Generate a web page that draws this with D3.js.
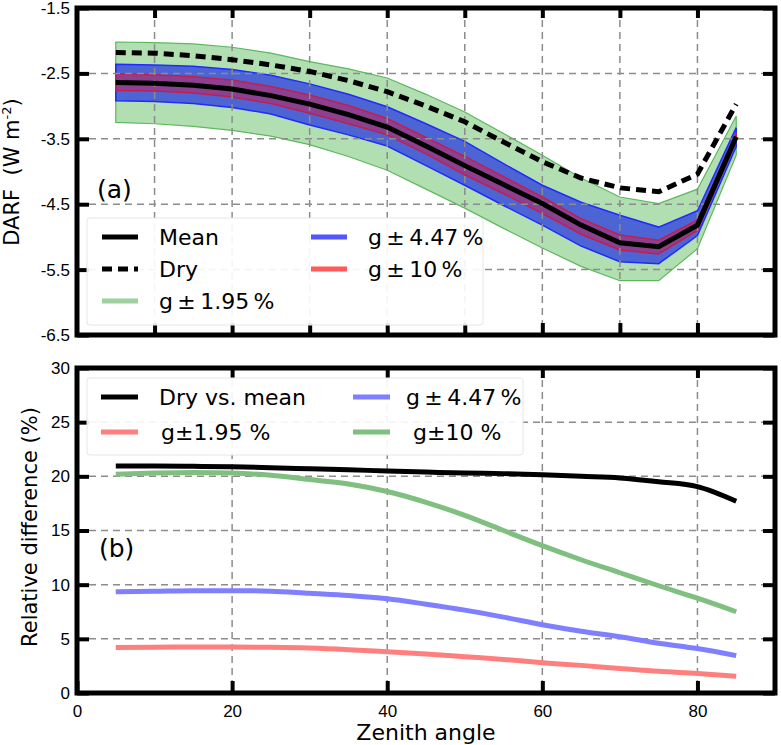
<!DOCTYPE html>
<html>
<head>
<meta charset="utf-8">
<script src="https://cdn.jsdelivr.net/npm/d3@7"></script>
<style>
  body { margin: 0; background: #fff; }
  svg { font-family: "DejaVu Sans", sans-serif; }
</style>
</head>
<body>
<svg id="chart" width="781" height="745"></svg>
<script>
// zenith angles
let angles = [5, 10, 15, 20, 25, 30, 35, 40, 45, 50, 55, 60, 65, 70, 75, 80, 85]

// panel (a): DARF (W m-2)
let meanDarf = [-2.64, -2.65, -2.68, -2.74, -2.84, -2.97, -3.13, -3.32, -3.61, -3.91, -4.20, -4.49, -4.82, -5.09, -5.15, -4.82, -3.47]
let dryDarf = [-2.18, -2.19, -2.23, -2.29, -2.37, -2.47, -2.61, -2.78, -3.00, -3.24, -3.55, -3.85, -4.10, -4.25, -4.31, -4.04, -2.97]
let greenUpper = [-2.02, -2.03, -2.05, -2.10, -2.19, -2.32, -2.43, -2.57, -2.82, -3.09, -3.42, -3.75, -4.10, -4.39, -4.49, -4.27, -3.15]
let greenLower = [-3.25, -3.27, -3.31, -3.37, -3.46, -3.59, -3.77, -3.98, -4.27, -4.56, -4.87, -5.17, -5.45, -5.67, -5.67, -5.18, -3.75]
let blueUpper = [-2.36, -2.37, -2.39, -2.44, -2.53, -2.66, -2.82, -3.01, -3.27, -3.54, -3.88, -4.21, -4.47, -4.67, -4.85, -4.60, -3.33]
let blueLower = [-2.92, -2.93, -2.96, -3.02, -3.12, -3.29, -3.44, -3.61, -3.91, -4.21, -4.52, -4.82, -5.14, -5.38, -5.41, -4.98, -3.62]
let redUpper = [-2.51, -2.52, -2.55, -2.60, -2.70, -2.83, -2.99, -3.19, -3.48, -3.77, -4.08, -4.39, -4.72, -4.97, -5.05, -4.74, -3.41]
let redLower = [-2.76, -2.77, -2.80, -2.86, -2.96, -3.11, -3.27, -3.44, -3.73, -4.05, -4.34, -4.64, -4.96, -5.20, -5.26, -4.90, -3.53]

// panel (b): relative difference (%)
let dryVsMean = [20.95, 20.95, 20.92, 20.88, 20.8, 20.7, 20.6, 20.5, 20.4, 20.3, 20.25, 20.15, 20.0, 19.85, 19.5, 19.05, 17.7]
let rel195 = [4.2, 4.22, 4.25, 4.25, 4.22, 4.15, 4.0, 3.8, 3.6, 3.35, 3.1, 2.8, 2.55, 2.27, 2.0, 1.8, 1.55]
let rel447 = [9.35, 9.4, 9.45, 9.45, 9.4, 9.2, 9.0, 8.7, 8.2, 7.65, 7.0, 6.3, 5.7, 5.2, 4.6, 4.1, 3.45]
let rel10 = [20.2, 20.3, 20.35, 20.3, 20.1, 19.7, 19.3, 18.6, 17.6, 16.4, 15.0, 13.6, 12.3, 11.1, 9.9, 8.75, 7.5]

let darfTicks = [-6.5, -5.5, -4.5, -3.5, -2.5, -1.5]
let darfGrid = [-5.5, -4.5, -3.5, -2.5]
let topXTicks = [10, 20, 30, 40, 50, 60, 70, 80]
let relTicks = [0, 5, 10, 15, 20, 25, 30]
let relGrid = [5, 10, 15, 20, 25]
let bottomXTicks = [0, 20, 40, 60, 80]

let svg = d3.select('#chart')
let left = 77, right = 775

let x = d3.scaleLinear().domain([0, 90]).range([left, right])
let yTop = d3.scaleLinear().domain([-6.5, -1.5]).range([335, 8])
let yBot = d3.scaleLinear().domain([0, 30]).range([693, 368])

let gridStyle = (sel) => sel
    .attr('stroke', '#8c8c8c')
    .attr('stroke-width', 1.5)
    .attr('stroke-dasharray', '7,5')

let drawPanel = (y, xGrid, yGrid, xTicks, yTicks, showXLabels) => {
    let top = y.range()[1], bottom = y.range()[0]
    let g = svg.append('g')

    let grid = g.append('g')
    grid.selectAll('.gx').data(xGrid).enter().append('line')
        .attr('x1', d => x(d)).attr('x2', d => x(d))
        .attr('y1', top).attr('y2', bottom)
        .call(gridStyle)
    grid.selectAll('.gy').data(yGrid).enter().append('line')
        .attr('x1', left).attr('x2', right)
        .attr('y1', d => y(d)).attr('y2', d => y(d))
        .call(gridStyle)
    return { g, grid, top, bottom }
}

let finishPanel = (panel, y, xTicks, yTicks, showXLabels) => {
    let { g, top, bottom } = panel
    let inner = (sel) => {
        sel.select('.domain').remove()
        sel.selectAll('.tick line').attr('stroke', '#000').attr('stroke-width', 4)
        sel.selectAll('.tick text').attr('font-size', 17).attr('fill', '#000')
    }
    g.append('g').attr('transform', `translate(${left},0)`)
        .call(d3.axisLeft(y).tickValues(yTicks).tickSize(-12).tickPadding(7).tickFormat(d => y === yTop ? d.toFixed(1) : d))
        .call(inner)
    g.append('g').attr('transform', `translate(${right},0)`)
        .call(d3.axisRight(y).tickValues(yTicks).tickSize(-12).tickFormat(''))
        .call(inner)
    g.append('g').attr('transform', `translate(0,${top})`)
        .call(d3.axisTop(x).tickValues(xTicks).tickSize(-10).tickFormat(''))
        .call(inner)
    let bx = g.append('g').attr('transform', `translate(0,${bottom})`)
        .call(d3.axisBottom(x).tickValues(showXLabels ? [0].concat(xTicks) : xTicks).tickSize(-12).tickPadding(8)
            .tickFormat(showXLabels ? (d => d) : ''))
        .call(inner)
    if (showXLabels) bx.selectAll('.tick text').attr('dy', '0.95em')

    g.append('rect')
        .attr('x', left).attr('y', top)
        .attr('width', right - left).attr('height', bottom - top)
        .attr('fill', 'none').attr('stroke', '#000').attr('stroke-width', 5)
}

// ---------- panel (a) ----------
let pa = drawPanel(yTop, topXTicks, darfGrid)

let band = (upper, lower) => d3.area()
    .x((d, i) => x(angles[i]))
    .y0((d, i) => yTop(lower[i]))
    .y1((d, i) => yTop(upper[i]))(angles)

pa.g.insert('path', ':first-child').attr('d', band(greenUpper, greenLower))
    .attr('fill', 'rgb(0,150,0)').attr('fill-opacity', 0.3)
    .attr('stroke', '#5cb85c').attr('stroke-width', 1.2)
pa.g.insert('path', 'g').attr('d', band(blueUpper, blueLower))
    .attr('fill', 'rgb(10,20,235)').attr('fill-opacity', 0.6)
    .attr('stroke', '#1f2bff').attr('stroke-width', 1.5)
pa.g.insert('path', 'g').attr('d', band(redUpper, redLower))
    .attr('fill', 'rgb(220,20,60)').attr('fill-opacity', 0.45)
    .attr('stroke', '#c02050').attr('stroke-width', 1.5)

let lineTop = (vals) => d3.line().x((d, i) => x(angles[i])).y((d, i) => yTop(vals[i]))(angles)

pa.g.append('path').attr('d', lineTop(dryDarf))
    .attr('fill', 'none').attr('stroke', '#000').attr('stroke-width', 5)
    .attr('stroke-dasharray', '10,6')
pa.g.append('path').attr('d', lineTop(meanDarf))
    .attr('fill', 'none').attr('stroke', '#000').attr('stroke-width', 5)

finishPanel(pa, yTop, topXTicks, darfTicks, false)

svg.append('text').attr('x', 97).attr('y', 198)
    .attr('font-size', 25).text('(a)')

// legend (a)
let legA = svg.append('g')
legA.append('rect').attr('x', 87).attr('y', 218).attr('width', 396).attr('height', 107)
    .attr('rx', 3).attr('fill', '#fff').attr('fill-opacity', 0.9)
    .attr('stroke', '#e6e6e6').attr('stroke-width', 1)

let legendA = [
    { label: 'Mean', color: '#000', dash: null, op: 1, col: 0, row: 0 },
    { label: 'Dry', color: '#000', dash: '10,6', op: 1, col: 0, row: 1 },
    { label: 'g\u2009±\u20091.95\u2009%', color: '#9fd09f', dash: null, op: 1, col: 0, row: 2 },
    { label: 'g\u2009±\u20094.47\u2009%', color: '#5555ff', dash: null, op: 1, col: 1, row: 0 },
    { label: 'g\u2009±\u200910\u2009%', color: '#ff5a5a', dash: null, op: 1, col: 1, row: 1 }
]
let colXa = [102, 311], rowYa = [237, 269, 301]
legendA.forEach(e => {
    let lx = colXa[e.col], ly = rowYa[e.row]
    legA.append('line').attr('x1', lx).attr('x2', lx + 36).attr('y1', ly).attr('y2', ly)
        .attr('stroke', e.color).attr('stroke-width', 5)
        .attr('stroke-dasharray', e.dash)
    legA.append('text').attr('x', lx + 57).attr('y', ly).attr('dy', '0.36em')
        .attr('font-size', 22).text(e.label)
})

// ---------- panel (b) ----------
let pb = drawPanel(yBot, [20, 40, 60, 80], relGrid)

let lineBot = (vals) => d3.line().x((d, i) => x(angles[i])).y((d, i) => yBot(vals[i])).curve(d3.curveMonotoneX)(angles)

let bLines = [
    { vals: rel195, color: '#ff7f7f' },
    { vals: rel447, color: '#7f7fff' },
    { vals: rel10, color: '#7fbf7f' },
    { vals: dryVsMean, color: '#000' }
]
bLines.forEach(l => {
    pb.g.append('path').attr('d', lineBot(l.vals))
        .attr('fill', 'none').attr('stroke', l.color).attr('stroke-width', 5)
})

finishPanel(pb, yBot, bottomXTicks.slice(1), relTicks, true)

svg.append('text').attr('x', 99).attr('y', 557)
    .attr('font-size', 25).text('(b)')

// legend (b)
let legB = svg.append('g')
legB.append('rect').attr('x', 87).attr('y', 378).attr('width', 436).attr('height', 77)
    .attr('rx', 3).attr('fill', '#fff').attr('fill-opacity', 0.9)
    .attr('stroke', '#e6e6e6').attr('stroke-width', 1)

let legendB = [
    { label: 'Dry vs. mean', color: '#000', lx: 101, tx: 159, row: 0 },
    { label: 'g±1.95 %', color: '#ff7f7f', lx: 101, tx: 161, row: 1 },
    { label: 'g\u2009±\u20094.47\u2009%', color: '#7f7fff', lx: 353, tx: 406, row: 0 },
    { label: 'g±10 %', color: '#7fbf7f', lx: 353, tx: 413, row: 1 }
]
let rowYb = [397, 432]
legendB.forEach(e => {
    let ly = rowYb[e.row]
    legB.append('line').attr('x1', e.lx).attr('x2', e.lx + 37).attr('y1', ly).attr('y2', ly)
        .attr('stroke', e.color).attr('stroke-width', 5)
    legB.append('text').attr('x', e.tx).attr('y', ly).attr('dy', '0.36em')
        .attr('font-size', 22).text(e.label)
})

// axis titles
svg.append('text')
    .attr('transform', 'translate(19,172) rotate(-90)')
    .attr('text-anchor', 'middle').attr('font-size', 21)
    .call(t => {
        t.append('tspan').text('DARF\u00a0\u00a0(W m')
        t.append('tspan').attr('font-size', 13).attr('dy', -8).text('-2')
        t.append('tspan').attr('dy', 8).text(')')
    })

svg.append('text')
    .attr('transform', 'translate(37,527) rotate(-90)')
    .attr('text-anchor', 'middle').attr('font-size', 21)
    .text('Relative difference (%)')

svg.append('text')
    .attr('x', 426).attr('y', 740)
    .attr('text-anchor', 'middle').attr('font-size', 22)
    .text('Zenith angle')
</script>
</body>
</html>
